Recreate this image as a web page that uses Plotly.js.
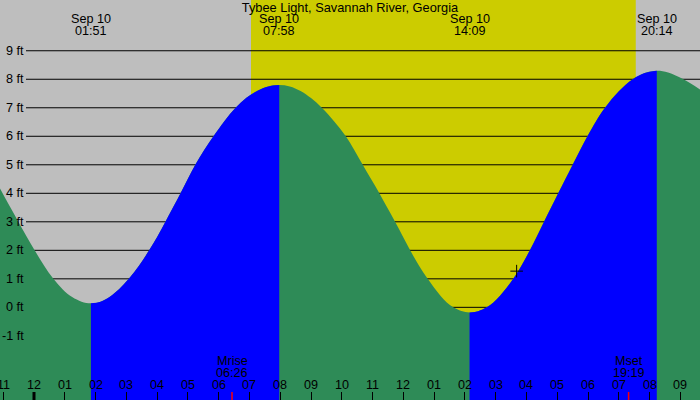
<!DOCTYPE html>
<html>
<head>
<meta charset="utf-8">
<script src="https://cdn.plot.ly/plotly-3.0.1.min.js"></script>
<style>html,body{margin:0;padding:0;background:#bebebe;}#chart{width:700px;height:400px;}</style>
</head>
<body>
<div id="chart"></div>
<script>
// ---- data (hours after midnight Sep 10, feet) ----
const titleText = "Tybee Light, Savannah River, Georgia";

const fall1T = [-1.2, -1.02, -0.765, -0.51, -0.245, 0.02, 0.325, 0.63, 0.935, 1.24, 1.545, 1.85];
const fall1V = [4.35, 4.0, 3.5, 3.0, 2.49, 2.0, 1.47, 1.0, 0.63, 0.36, 0.2, 0.14];
const rise1T = [1.85, 2.16, 2.465, 2.77, 3.08, 3.41, 3.74, 4.005, 4.27, 4.515, 4.76, 5.0, 5.24, 5.535, 5.83, 6.19, 6.55, 6.9, 7.26, 7.61, 7.967];
const rise1V = [0.14, 0.2, 0.37, 0.64, 1.0, 1.46, 2.0, 2.48, 3.0, 3.5, 4.0, 4.51, 5.0, 5.53, 6.0, 6.54, 7.0, 7.35, 7.6, 7.75, 7.8];
const fall2T = [7.967, 8.31, 8.66, 9.0, 9.35, 9.74, 10.13, 10.405, 10.68, 10.95, 11.22, 11.475, 11.73, 11.975, 12.22, 12.505, 12.79, 13.0, 13.205, 13.41, 13.62, 13.885, 14.15];
const fall2V = [7.8, 7.75, 7.59, 7.34, 7.0, 6.54, 6.0, 5.52, 5.0, 4.5, 4.0, 3.5, 3.0, 2.5, 2.0, 1.47, 1.0, 0.69, 0.41, 0.17, 0.0, -0.13, -0.18];
const rise2T = [14.15, 14.43, 14.71, 14.925, 15.14, 15.355, 15.57, 15.84, 16.11, 16.34, 16.57, 16.8, 17.03, 17.265, 17.5, 17.74, 17.98, 18.265, 18.55, 19.0, 19.45, 19.84, 20.233];
const rise2V = [-0.18, -0.135, 0.0, 0.17, 0.41, 0.69, 1.0, 1.47, 2.0, 2.49, 3.0, 3.5, 4.0, 4.5, 5.0, 5.51, 6.0, 6.54, 7.0, 7.58, 8.0, 8.22, 8.3];
const fall3T = [20.233, 20.6, 21.1, 21.7];
const fall3V = [8.3, 8.24, 8.0, 7.6];

const extremeTimes = [1.85, 7.967, 14.15, 20.233];
const extremeDate = ["Sep 10", "Sep 10", "Sep 10", "Sep 10"];
const extremeLabels = ["01:51", "07:58", "14:09", "20:14"];

const sunTimes = [7.05, 19.55];          // daylight window
const moonTimes = [6.433, 19.317];
const moonNames = ["Mrise", "Mset"];
const moonLabels = ["06:26", "19:19"];

const hourVals = [-1,0,1,2,3,4,5,6,7,8,9,10,11,12,13,14,15,16,17,18,19,20,21];
const hourLabels = ["11","12","01","02","03","04","05","06","07","08","09","10","11","12","01","02","03","04","05","06","07","08","09"];
const midnightTicks = [0];

const gridVals = [-1,0,1,2,3,4,5,6,7,8,9];
const gridLabels = ["-1 ft","0 ft","1 ft","2 ft","3 ft","4 ft","5 ft","6 ft","7 ft","8 ft","9 ft"];

const cursorT = [15.68];
const cursorV = [1.27];

// ---- styling ----
const X_RANGE = [-1.1046, 21.637];
const Y_RANGE = [-3.25, 10.78];
const BASE = -5;
const GREEN = "#2e8b57", BLUE = "#0000ff", GRAY = "#bebebe", YELLOW = "#cccc00";
const FONT = "Liberation Sans, Arial, sans-serif";
const FS = 12.6;

// whole curve (green, falling) with rising segments (blue) laid on top
const allT = fall1T.concat(rise1T.slice(1), fall2T.slice(1), rise2T.slice(1), fall3T.slice(1));
const allV = fall1V.concat(rise1V.slice(1), fall2V.slice(1), rise2V.slice(1), fall3V.slice(1));

const traces = [];
function addFill(t, v, color) {
  traces.push({x: [t[0], t[t.length-1]], y: [BASE, BASE], mode: "lines",
    line: {width: 0, color: color}, hoverinfo: "skip", showlegend: false});
  traces.push({x: t, y: v, mode: "lines", fill: "tonexty", fillcolor: color,
    line: {width: 0, color: color, shape: "spline", smoothing: 1}, hoverinfo: "skip", showlegend: false});
}
addFill(allT, allV, GREEN);
addFill(rise1T, rise1V, BLUE);
addFill(rise2T, rise2V, BLUE);
traces.push({x: cursorT, y: cursorV, mode: "markers", hoverinfo: "skip", showlegend: false,
  marker: {symbol: "cross-thin-open", size: 9, color: "#000", line: {color: "#000", width: 1}}});

const shapes = [];
shapes.push({type: "rect", layer: "below", xref: "x", yref: "paper", x0: sunTimes[0], x1: sunTimes[1], y0: 0, y1: 1,
  fillcolor: YELLOW, line: {width: 0}});
gridVals.forEach(g => shapes.push({type: "line", layer: "below", xref: "paper", yref: "y",
  x0: 26/700, x1: 1, y0: g, y1: g, line: {color: "#000", width: 1}}));
midnightTicks.forEach(m => shapes.push({type: "line", layer: "above", xref: "x", yref: "paper",
  x0: m, x1: m, y0: 0, y1: 8/400, line: {color: "#000", width: 3}}));
moonTimes.forEach(m => shapes.push({type: "line", layer: "above", xref: "x", yref: "paper",
  x0: m, x1: m, y0: 0, y1: 8/400, line: {color: "#ff0000", width: 1.5}}));

const annotations = [];
const txt = (x, xref, y, yref, text, xanchor) => ({x, xref, y, yref, text, showarrow: false,
  xanchor: xanchor || "center", yanchor: "middle", borderpad: 0,
  font: {family: FONT, size: FS, color: "#000"}});
extremeTimes.forEach((t, i) => {
  annotations.push(txt(t, "x", 1 - 19/400, "paper", extremeDate[i]));
  annotations.push(txt(t, "x", 1 - 31/400, "paper", extremeLabels[i]));
});
moonTimes.forEach((t, i) => {
  annotations.push(txt(t, "x", 1 - 361/400, "paper", moonNames[i]));
  annotations.push(txt(t, "x", 1 - 373/400, "paper", moonLabels[i]));
});
hourVals.forEach((h, i) => annotations.push(txt(h, "x", 1 - 385/400, "paper", hourLabels[i])));
gridVals.forEach((g, i) => annotations.push(txt(24.5/700, "paper", g, "y", gridLabels[i], "right")));

const layout = {
  width: 700, height: 400,
  margin: {l: 0, r: 0, t: 0, b: 0, pad: 0},
  paper_bgcolor: GRAY, plot_bgcolor: GRAY,
  font: {family: FONT, size: FS, color: "#000"},
  title: {text: titleText, x: 0.5, xanchor: "center", y: 1 - 8/400, yanchor: "middle",
    xref: "paper", yref: "container", font: {family: FONT, size: 12.8, color: "#000"}},
  showlegend: false,
  xaxis: {range: X_RANGE, showgrid: false, zeroline: false, showline: false,
    tickmode: "array", tickvals: hourVals, showticklabels: false,
    ticks: "inside", ticklen: 8, tickwidth: 1, tickcolor: "#000", fixedrange: true},
  yaxis: {range: Y_RANGE, showgrid: false, zeroline: false, showline: false,
    showticklabels: false, ticks: "", fixedrange: true},
  shapes, annotations
};

Plotly.newPlot("chart", traces, layout, {displayModeBar: false, staticPlot: true});
</script>
</body>
</html>
